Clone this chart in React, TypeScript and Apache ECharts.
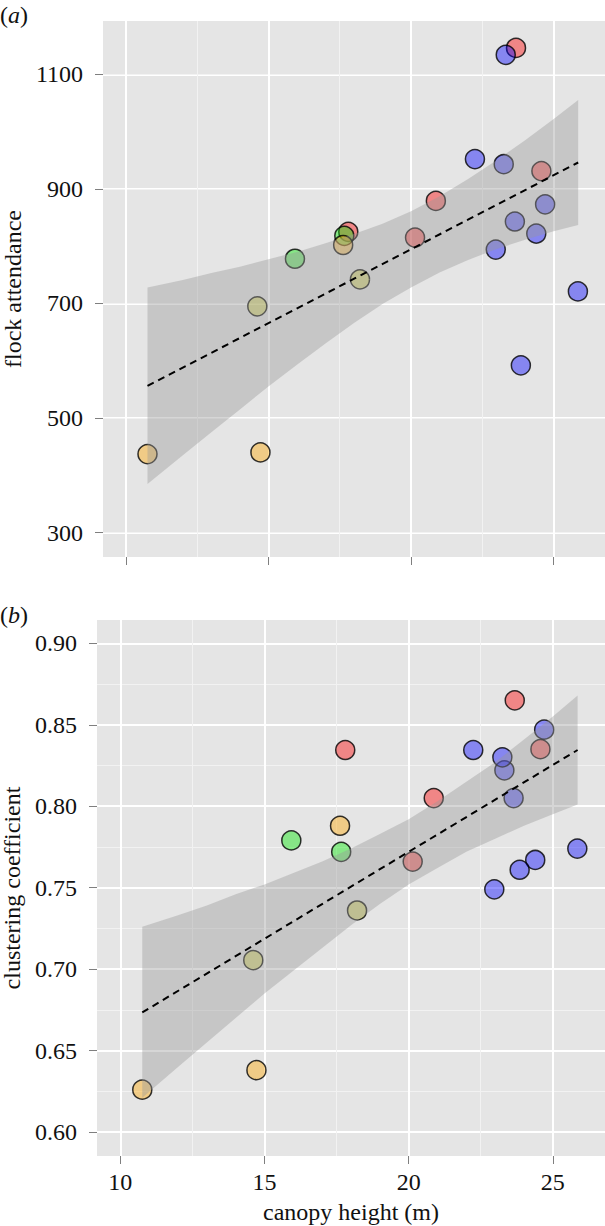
import React, { useEffect, useRef } from "react";
import * as echarts from "echarts";

// ---- data ----
const canopyHeight = [23.68, 23.32, 22.24, 23.25, 24.57, 20.87, 24.7, 23.64, 17.8, 17.66, 17.62, 24.39, 20.14, 22.97, 18.21, 25.85, 15.93, 14.61, 10.76, 14.72, 23.85];
const flockAttendance = [1146, 1134, 952, 943, 931, 879, 873, 843, 825, 818, 802, 822, 815, 794, 742, 721, 778, 695, 437, 440, 592];
const clusteringCoefficient = [0.865, 0.822, 0.8345, 0.83, 0.835, 0.805, 0.847, 0.805, 0.8345, 0.772, 0.788, 0.767, 0.766, 0.749, 0.736, 0.774, 0.779, 0.7055, 0.626, 0.638, 0.761];
const siteGroup = ["red", "blue", "blue", "blue", "red", "red", "blue", "blue", "red", "green", "orange", "blue", "red", "blue", "yellow", "blue", "green", "yellow", "orange", "orange", "blue"];

const groupColors: Record<string, string> = {
  red: "rgba(255,0,0,0.52)",
  orange: "rgba(255,165,0,0.52)",
  yellow: "rgba(200,200,20,0.52)",
  green: "rgba(0,230,0,0.52)",
  blue: "rgba(0,0,255,0.52)",
};

// fitted line end points and confidence band
const fitX = [10.76, 25.86];
const flockFit = [556, 946];
const clusterFit = [0.6734, 0.8345];

const bandX = [10.76, 12, 13, 14, 15, 16, 17, 18, 19, 20, 21, 22, 23, 24, 25, 25.86];
const flockLower = [385, 435, 475, 515, 555, 593, 630, 666, 699, 728, 754, 776, 795, 811, 826, 837];
const flockUpper = [728, 741, 753, 764, 777, 790, 805, 821, 839, 861, 887, 917, 950, 985, 1022, 1055];
const clusterLower = [0.621, 0.64, 0.655, 0.67, 0.685, 0.699, 0.713, 0.727, 0.74, 0.752, 0.762, 0.772, 0.78, 0.788, 0.795, 0.801];
const clusterUpper = [0.726, 0.733, 0.739, 0.746, 0.752, 0.759, 0.766, 0.774, 0.783, 0.792, 0.803, 0.815, 0.827, 0.841, 0.855, 0.868];

const xTicks = [10, 15, 20, 25];
const flockTicks = [300, 500, 700, 900, 1100];
const clusterTicks = [0.6, 0.65, 0.7, 0.75, 0.8, 0.85, 0.9];

const FONT = "Liberation Serif";

function axisCommon() {
  return {
    axisLine: { show: false },
    splitLine: { show: true, lineStyle: { color: "#ffffff", width: 2 } },
    minorTick: { show: false, splitNumber: 2 },
    minorSplitLine: { show: true, lineStyle: { color: "#f2f2f2", width: 1 } },
  };
}

function tickStyle(values: number[]) {
  return { show: true, length: 8, customValues: values, lineStyle: { color: "#7f7f7f", width: 1 } };
}

function scatterSeries(xi: number, ys: number[]) {
  return {
    type: "scatter",
    xAxisIndex: xi,
    yAxisIndex: xi,
    z: 2,
    symbolSize: 19,
    data: canopyHeight.map((x, i) => ({
      value: [x, ys[i]],
      itemStyle: { color: groupColors[siteGroup[i]], borderColor: "#000", borderWidth: 1.5 },
    })),
  };
}

function bandSeries(xi: number, lo: number[], hi: number[]) {
  return {
    type: "custom",
    xAxisIndex: xi,
    yAxisIndex: xi,
    z: 3,
    silent: true,
    data: bandX.map((x, i) => [x, lo[i], hi[i]]),
    renderItem: (params: any, api: any) => {
      if (params.dataIndex !== 0) return null;
      const pts: number[][] = [];
      for (let i = 0; i < bandX.length; i++) pts.push(api.coord([bandX[i], hi[i]]));
      for (let i = bandX.length - 1; i >= 0; i--) pts.push(api.coord([bandX[i], lo[i]]));
      return { type: "polygon", shape: { points: pts }, style: { fill: "rgba(153,153,153,0.4)" } };
    },
  };
}

function fitSeries(xi: number, ys: number[]) {
  return {
    type: "line",
    xAxisIndex: xi,
    yAxisIndex: xi,
    z: 4,
    showSymbol: false,
    silent: true,
    lineStyle: { color: "#000", width: 2, type: [7, 5] },
    data: fitX.map((x, i) => [x, ys[i]]),
  };
}

export default function App() {
  const ref = useRef<HTMLDivElement>(null);
  useEffect(() => {
    if (!ref.current) return;
    const chart = echarts.init(ref.current, undefined, { renderer: "svg" });
    const labelStyle = { color: "#111", fontFamily: FONT, fontSize: 24 };
    chart.setOption({
      animation: false,
      textStyle: { fontFamily: FONT },
      grid: [
        { left: 103, top: 21, right: 0, height: 536, show: true, backgroundColor: "#E5E5E5", borderWidth: 0, outerBoundsMode: "none", containLabel: false },
        { left: 97, top: 620, right: 0, height: 536, show: true, backgroundColor: "#E5E5E5", borderWidth: 0, outerBoundsMode: "none", containLabel: false },
      ],
      xAxis: [
        {
          type: "value", gridIndex: 0, min: 9.2, max: 26.8, splitNumber: 4,
          ...axisCommon(),
          axisTick: tickStyle(xTicks),
          axisLabel: { show: false, customValues: xTicks },
        },
        {
          type: "value", gridIndex: 1, min: 9.19, max: 26.81, splitNumber: 4,
          ...axisCommon(),
          axisTick: tickStyle(xTicks),
          axisLabel: { show: true, customValues: xTicks, margin: 14, formatter: (v: number) => String(v), ...labelStyle },
          name: "canopy height (m)", nameLocation: "middle", nameGap: 44,
          nameTextStyle: { ...labelStyle },
        },
      ],
      yAxis: [
        {
          type: "value", gridIndex: 0, min: 257.4, max: 1193, splitNumber: 5,
          ...axisCommon(),
          axisTick: tickStyle(flockTicks),
          axisLabel: { show: true, customValues: flockTicks, margin: 20, formatter: (v: number) => String(v), ...labelStyle },
          name: "flock attendance", nameLocation: "middle", nameGap: 76,
          nameTextStyle: { ...labelStyle },
        },
        {
          type: "value", gridIndex: 1, min: 0.5853, max: 0.9143, splitNumber: 6,
          ...axisCommon(),
          axisTick: tickStyle(clusterTicks),
          axisLabel: { show: true, customValues: clusterTicks, margin: 20, formatter: (v: number) => v.toFixed(2), ...labelStyle },
          name: "clustering coefficient", nameLocation: "middle", nameGap: 70,
          nameTextStyle: { ...labelStyle },
        },
      ],
      graphic: [
        {
          type: "text", left: 0, top: 3,
          style: { text: "({i|a})", fontFamily: FONT, fontSize: 24, fill: "#111", rich: { i: { fontStyle: "italic", fontFamily: FONT, fontSize: 24 } } },
        },
        {
          type: "text", left: 0, top: 603,
          style: { text: "({i|b})", fontFamily: FONT, fontSize: 24, fill: "#111", rich: { i: { fontStyle: "italic", fontFamily: FONT, fontSize: 24 } } },
        },
      ],
      series: [
        scatterSeries(0, flockAttendance),
        bandSeries(0, flockLower, flockUpper),
        fitSeries(0, flockFit),
        scatterSeries(1, clusteringCoefficient),
        bandSeries(1, clusterLower, clusterUpper),
        fitSeries(1, clusterFit),
      ],
    });
    return () => chart.dispose();
  }, []);
  return <div ref={ref} style={{ position: "absolute", left: 0, top: 0, width: 605, height: 1226 }} />;
}
